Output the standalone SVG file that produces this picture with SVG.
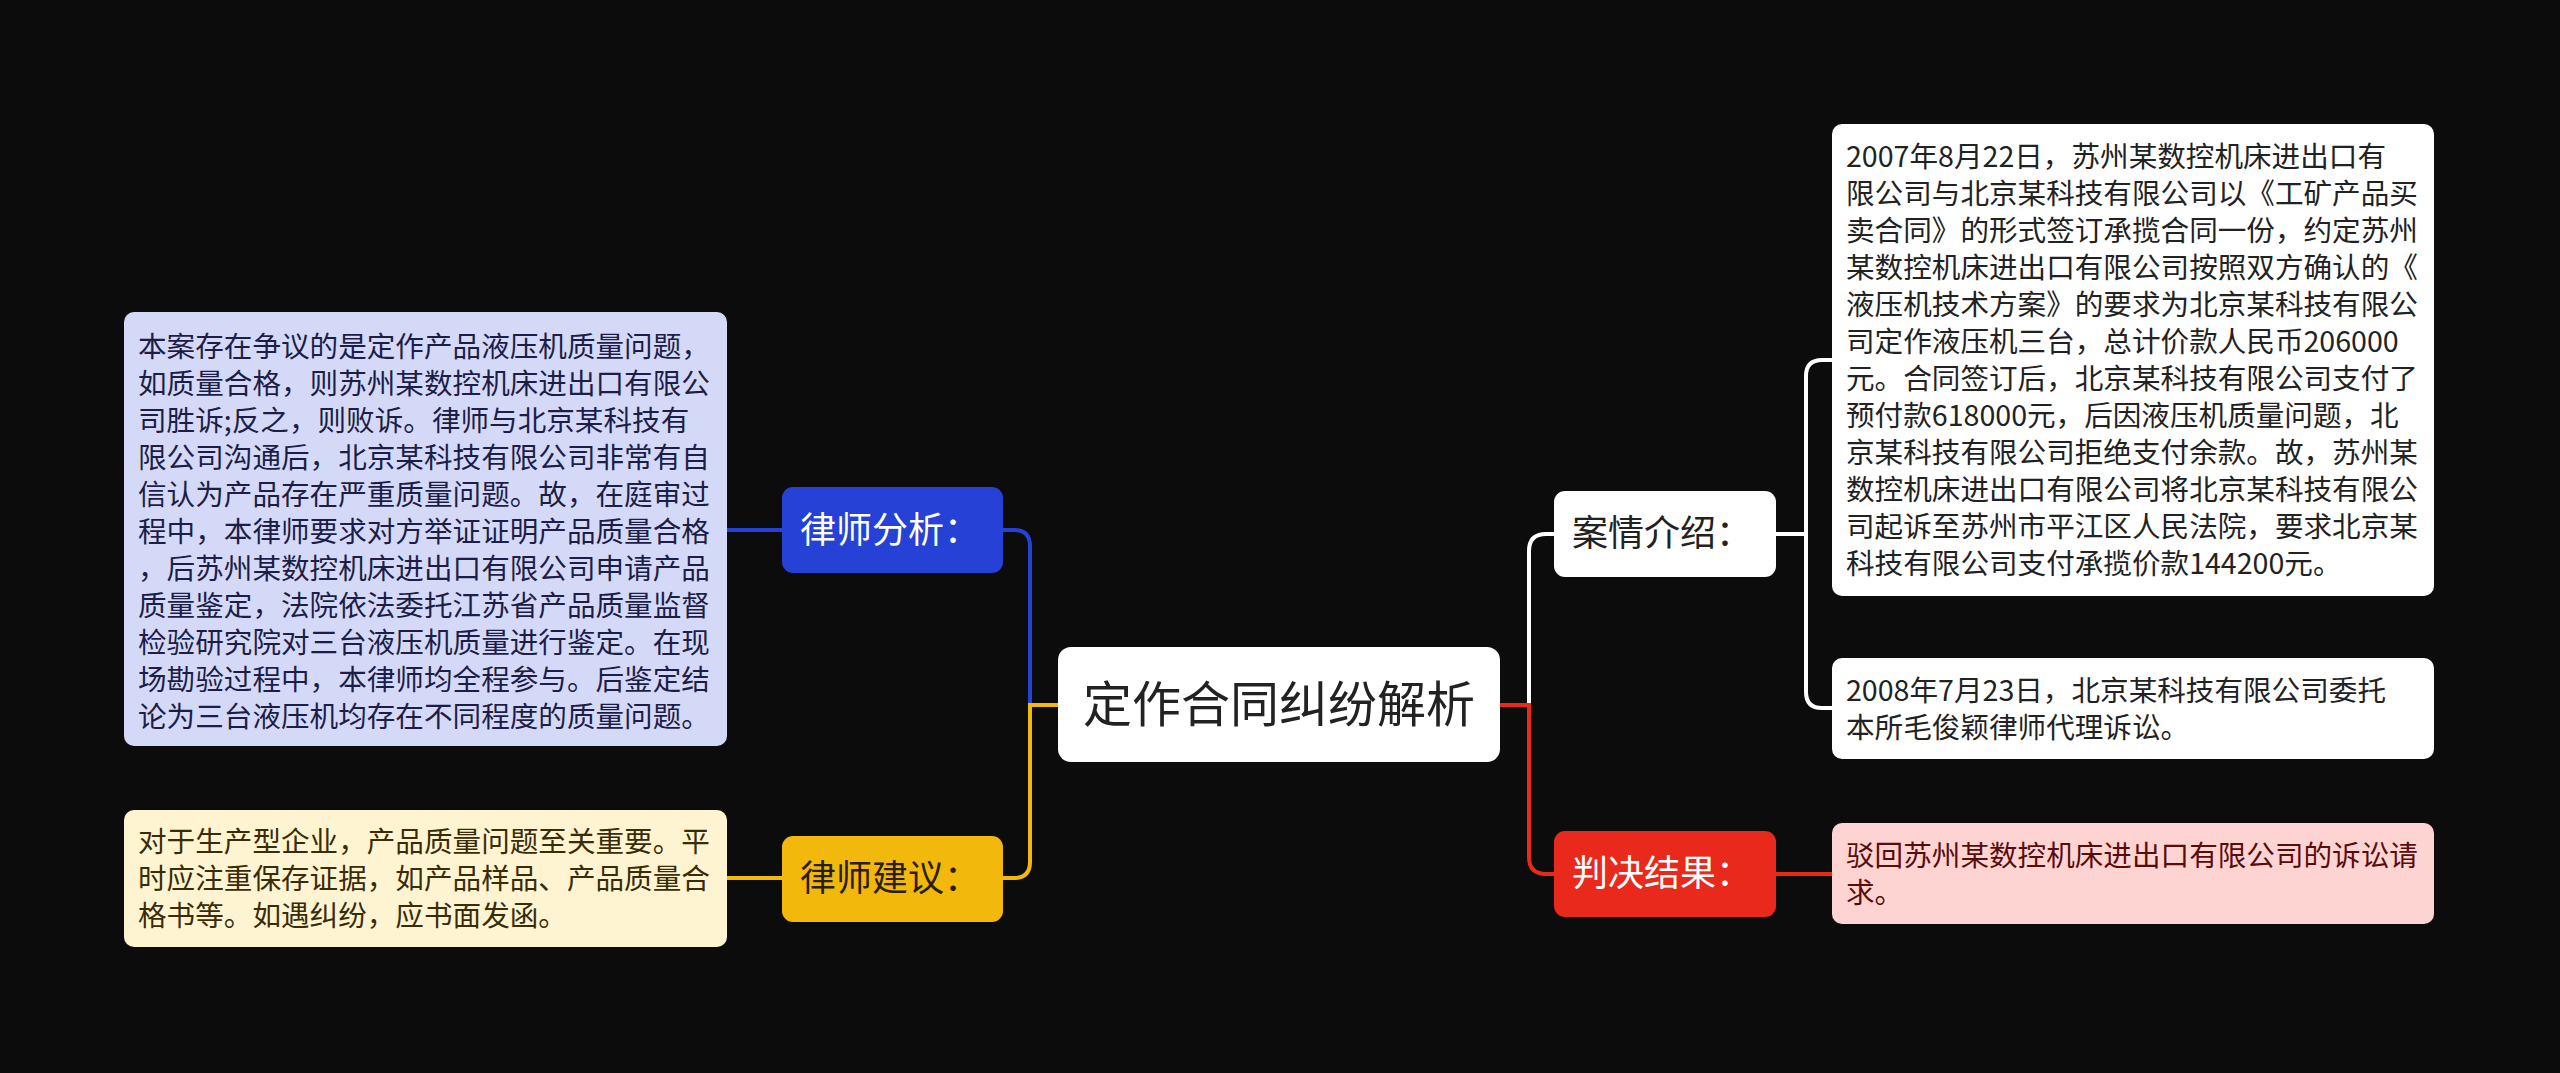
<svg xmlns="http://www.w3.org/2000/svg" width="2560" height="1073" viewBox="0 0 2560 1073">
<style>
text{font-family:"Noto Sans CJK SC","Noto Sans",sans-serif}
.body{font-size:28.6px}
.br{font-size:36px}
.main{font-size:49px;fill:#222222}
.conn{fill:none;stroke-width:4}
</style>
<rect x="0" y="0" width="2560" height="1073" fill="#0c0c0c"/>
<g id="connectors">
<path class="conn" stroke="#2541d6" d="M1058 705 H1030 V546 Q1030 530 1014 530 H1003"/>
<path class="conn" stroke="#2541d6" d="M782 530 H727"/>
<path class="conn" stroke="#f2b90c" d="M1058 705 H1030 V862 Q1030 878 1014 878 H1003"/>
<path class="conn" stroke="#f2b90c" d="M782 878 H727"/>
<path class="conn" stroke="#ffffff" d="M1529 705 V551 Q1529 534 1546 534 H1554"/>
<path class="conn" stroke="#e9291c" d="M1500 705 H1529 V857 Q1529 874 1546 874 H1554"/>
<path class="conn" stroke="#ffffff" d="M1776 534 H1806 V376 Q1806 360 1822 360 H1832"/>
<path class="conn" stroke="#ffffff" d="M1806 534 V692 Q1806 708 1822 708 H1832"/>
<path class="conn" stroke="#e9291c" d="M1776 874 H1832"/>
</g>
<g id="main">
<rect x="1058" y="647" width="442" height="115" rx="13" fill="#ffffff"/>
<text class="main" x="1279" y="722" text-anchor="middle">定作合同纠纷解析</text>
</g>
<g id="n-fenxi">
<rect x="782" y="487" width="221" height="86" rx="11" fill="#2541d6"/>
<text class="br" x="800" y="543" fill="#ffffff">律师分析：</text>
</g>
<g id="n-jianyi">
<rect x="782" y="836" width="221" height="86" rx="11" fill="#f2b90c"/>
<text class="br" x="800" y="891" fill="#2a2000">律师建议：</text>
</g>
<g id="n-anqing">
<rect x="1554" y="491" width="222" height="86" rx="11" fill="#ffffff"/>
<text class="br" x="1572" y="546" fill="#222222">案情介绍：</text>
</g>
<g id="n-panjue">
<rect x="1554" y="831" width="222" height="86" rx="11" fill="#e9291c"/>
<text class="br" x="1572" y="886" fill="#ffffff">判决结果：</text>
</g>
<g id="t-fenxi">
<rect x="124" y="312" width="603" height="434" rx="10" fill="#d5d9f8"/>
<text class="body" fill="#1c1e48">
<tspan x="138" y="357">本案存在争议的是定作产品液压机质量问题，</tspan>
<tspan x="138" y="394">如质量合格，则苏州某数控机床进出口有限公</tspan>
<tspan x="138" y="431">司胜诉;反之，则败诉。律师与北京某科技有</tspan>
<tspan x="138" y="468">限公司沟通后，北京某科技有限公司非常有自</tspan>
<tspan x="138" y="505">信认为产品存在严重质量问题。故，在庭审过</tspan>
<tspan x="138" y="542">程中，本律师要求对方举证证明产品质量合格</tspan>
<tspan x="138" y="579">，后苏州某数控机床进出口有限公司申请产品</tspan>
<tspan x="138" y="616">质量鉴定，法院依法委托江苏省产品质量监督</tspan>
<tspan x="138" y="653">检验研究院对三台液压机质量进行鉴定。在现</tspan>
<tspan x="138" y="690">场勘验过程中，本律师均全程参与。后鉴定结</tspan>
<tspan x="138" y="727">论为三台液压机均存在不同程度的质量问题。</tspan>
</text>
</g>
<g id="t-jianyi">
<rect x="124" y="810" width="603" height="137" rx="10" fill="#fff4d2"/>
<text class="body" fill="#3a2c06">
<tspan x="138" y="852">对于生产型企业，产品质量问题至关重要。平</tspan>
<tspan x="138" y="889">时应注重保存证据，如产品样品、产品质量合</tspan>
<tspan x="138" y="926">格书等。如遇纠纷，应书面发函。</tspan>
</text>
</g>
<g id="t-anqing1">
<rect x="1832" y="124" width="602" height="472" rx="10" fill="#ffffff"/>
<text class="body" fill="#222222">
<tspan x="1846" y="167">2007年8月22日，苏州某数控机床进出口有</tspan>
<tspan x="1846" y="204">限公司与北京某科技有限公司以《工矿产品买</tspan>
<tspan x="1846" y="241">卖合同》的形式签订承揽合同一份，约定苏州</tspan>
<tspan x="1846" y="278">某数控机床进出口有限公司按照双方确认的《</tspan>
<tspan x="1846" y="315">液压机技术方案》的要求为北京某科技有限公</tspan>
<tspan x="1846" y="352">司定作液压机三台，总计价款人民币206000</tspan>
<tspan x="1846" y="389">元。合同签订后，北京某科技有限公司支付了</tspan>
<tspan x="1846" y="426">预付款618000元，后因液压机质量问题，北</tspan>
<tspan x="1846" y="463">京某科技有限公司拒绝支付余款。故，苏州某</tspan>
<tspan x="1846" y="500">数控机床进出口有限公司将北京某科技有限公</tspan>
<tspan x="1846" y="537">司起诉至苏州市平江区人民法院，要求北京某</tspan>
<tspan x="1846" y="574">科技有限公司支付承揽价款144200元。</tspan>
</text>
</g>
<g id="t-anqing2">
<rect x="1832" y="658" width="602" height="101" rx="10" fill="#ffffff"/>
<text class="body" fill="#222222">
<tspan x="1846" y="701">2008年7月23日，北京某科技有限公司委托</tspan>
<tspan x="1846" y="738">本所毛俊颖律师代理诉讼。</tspan>
</text>
</g>
<g id="t-panjue">
<rect x="1832" y="823" width="602" height="101" rx="10" fill="#fdd4d2"/>
<text class="body" fill="#5a0c0c">
<tspan x="1846" y="866">驳回苏州某数控机床进出口有限公司的诉讼请</tspan>
<tspan x="1846" y="903">求。</tspan>
</text>
</g>
</svg>
